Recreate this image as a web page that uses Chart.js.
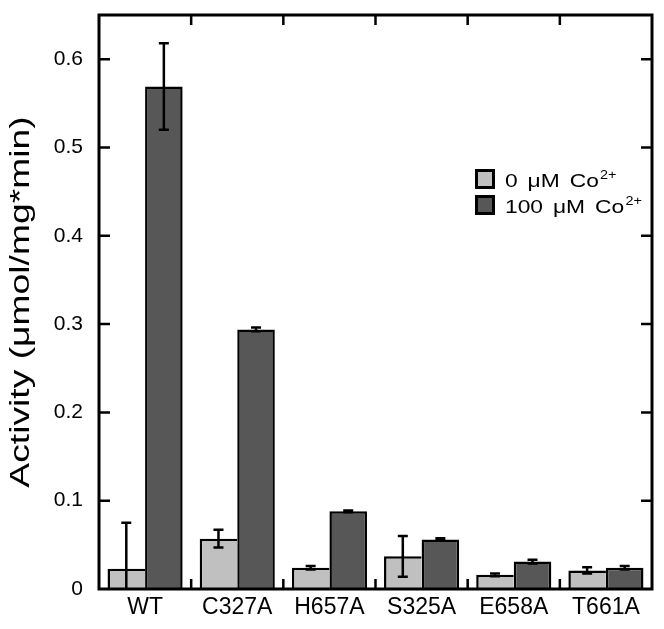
<!DOCTYPE html>
<html>
<head>
<meta charset="utf-8">
<script src="https://cdn.jsdelivr.net/npm/chart.js@4.4.0/dist/chart.umd.min.js"></script>
<style>
  html, body { margin: 0; padding: 0; background: #ffffff; }
  #wrap { width: 664px; height: 629px; position: relative; }
</style>
</head>
<body>
<div id="wrap"><canvas id="c"></canvas></div>
<script>
// ---- data ----
const categories = ['WT', 'C327A', 'H657A', 'S325A', 'E658A', 'T661A'];
const seriesNames = ['0 μM Co', '100 μM Co'];
const ionCharge = '2+';
const activity0 = [0.023, 0.057, 0.024, 0.037, 0.016, 0.021];
const error0 = [0.052, 0.010, 0.002, 0.023, 0.0015, 0.0035];
const activity100 = [0.569, 0.294, 0.088, 0.056, 0.031, 0.024];
const error100 = [0.049, 0.002, 0.001, 0.0015, 0.002, 0.002];
const yTickValues = [0, 0.1, 0.2, 0.3, 0.4, 0.5, 0.6];
const yAxisTitle = 'Activity (μmol/mg*min)';

const FONT = "'Liberation Sans', Arial, Helvetica, sans-serif";

const errorBarPlugin = {
  id: 'errorBars',
  afterDatasetsDraw(chart) {
    const ctx = chart.ctx;
    const ys = chart.scales.y;
    const area = chart.chartArea;
    ctx.save();
    ctx.beginPath();
    ctx.rect(area.left, area.top, area.right - area.left, area.bottom - area.top);
    ctx.clip();
    ctx.strokeStyle = '#000';
    ctx.lineWidth = 2.5;
    chart.data.datasets.forEach((ds, di) => {
      const meta = chart.getDatasetMeta(di);
      meta.data.forEach((bar, i) => {
        const v = ds.data[i];
        const e = ds.errors[i];
        const yHi = ys.getPixelForValue(v + e);
        const yLo = ys.getPixelForValue(v - e);
        const x = bar.x;
        const cw = 5;
        ctx.beginPath();
        ctx.moveTo(x, yHi); ctx.lineTo(x, yLo);
        ctx.moveTo(x - cw, yHi); ctx.lineTo(x + cw, yHi);
        ctx.moveTo(x - cw, yLo); ctx.lineTo(x + cw, yLo);
        ctx.stroke();
      });
    });
    ctx.restore();
  }
};

const framePlugin = {
  id: 'frame',
  afterDraw(chart) {
    const ctx = chart.ctx;
    const a = chart.chartArea;
    const xs = chart.scales.x;
    const ys = chart.scales.y;
    ctx.save();
    ctx.strokeStyle = '#000';
    ctx.lineWidth = 3;
    ctx.strokeRect(a.left, a.top, a.right - a.left, a.bottom - a.top);
    ctx.lineWidth = 2.5;
    ctx.beginPath();
    yTickValues.forEach(v => {
      if (v === 0) return;
      const y = ys.getPixelForValue(v);
      ctx.moveTo(a.left, y); ctx.lineTo(a.left + 11, y);
      ctx.moveTo(a.right, y); ctx.lineTo(a.right - 11, y);
    });
    for (let i = 0; i < categories.length - 1; i++) {
      const x = (xs.getPixelForValue(i) + xs.getPixelForValue(i + 1)) / 2;
      ctx.moveTo(x, a.bottom); ctx.lineTo(x, a.bottom - 10);
      ctx.moveTo(x, a.top); ctx.lineTo(x, a.top + 10);
    }
    ctx.stroke();

    // y-axis title, stretched along its reading direction like the reference
    ctx.save();
    ctx.translate(22, (a.top + a.bottom) / 2);
    ctx.rotate(-Math.PI / 2);
    ctx.scale(1.38, 1);
    ctx.fillStyle = '#000';
    ctx.font = '27px ' + FONT;
    ctx.textAlign = 'center';
    ctx.textBaseline = 'middle';
    ctx.fillText(yAxisTitle, 0, 0);
    ctx.restore();
    ctx.restore();
  }
};

const legendPlugin = {
  id: 'customLegend',
  afterDraw(chart) {
    const ctx = chart.ctx;
    const a = chart.chartArea;
    const x0 = a.right - 177;
    const y0 = 169;
    const rowH = 26;
    const box = 20;
    ctx.save();
    chart.data.datasets.forEach((ds, i) => {
      const y = y0 + i * rowH;
      ctx.fillStyle = '#000';
      ctx.fillRect(x0, y, box, box);
      ctx.fillStyle = ds.backgroundColor;
      ctx.fillRect(x0 + 3, y + 3, box - 6, box - 6);
      ctx.fillStyle = '#000';
      const tx = x0 + 30;
      const base = y + 18;
      ctx.save();
      ctx.translate(tx, base);
      ctx.scale(1.2, 1);
      ctx.font = '19px ' + FONT;
      ctx.textBaseline = 'alphabetic';
      ctx.textAlign = 'left';
      if ('wordSpacing' in ctx) ctx.wordSpacing = '3px';
      ctx.fillText(seriesNames[i], 0, 0);
      const w = ctx.measureText(seriesNames[i]).width;
      if ('wordSpacing' in ctx) ctx.wordSpacing = '0px';
      ctx.font = '12px ' + FONT;
      ctx.fillText(ionCharge, w + 1, -8);
      ctx.restore();
    });
    ctx.restore();
  }
};

new Chart(document.getElementById('c'), {
  type: 'bar',
  data: {
    labels: categories,
    datasets: [
      {
        label: seriesNames[0] + '²⁺',
        data: activity0,
        errors: error0,
        backgroundColor: '#c0c0c0',
        borderColor: '#000000',
        borderWidth: { top: 2.5, left: 2.5, right: 0, bottom: 0 },
        categoryPercentage: 0.815,
        barPercentage: 1.0
      },
      {
        label: seriesNames[1] + '²⁺',
        data: activity100,
        errors: error100,
        backgroundColor: '#575757',
        borderColor: '#000000',
        borderWidth: { top: 2.5, left: 2.5, right: 2.5, bottom: 0 },
        categoryPercentage: 0.815,
        barPercentage: 1.0
      }
    ]
  },
  options: {
    responsive: true,
    maintainAspectRatio: false,
    animation: false,
    devicePixelRatio: 1,
    layout: { padding: { left: 0, top: 15, right: 12, bottom: 0 } },
    plugins: {
      legend: { display: false },
      tooltip: { enabled: false }
    },
    scales: {
      x: {
        grid: { display: false, drawTicks: false },
        border: { display: false },
        ticks: {
          color: '#000',
          font: { family: FONT, size: 23 },
          padding: 5,
          maxRotation: 0,
          autoSkip: false
        },
        afterFit(scale) { scale.height = 40; scale.paddingLeft = 0; scale.paddingRight = 0; }
      },
      y: {
        min: 0,
        max: 0.65,
        grid: { display: false, drawTicks: false },
        border: { display: false },
        afterBuildTicks(scale) {
          scale.ticks = yTickValues.map(v => ({ value: v }));
        },
        ticks: {
          color: '#000',
          font: { family: FONT, size: 21 },
          padding: 16,
          callback: (v) => v === 0 ? '0' : Number(v).toFixed(1)
        },
        title: { display: false, text: yAxisTitle },
        afterFit(scale) { scale.width = 99; scale.paddingTop = 0; scale.paddingBottom = 0; }
      }
    }
  },
  plugins: [errorBarPlugin, framePlugin, legendPlugin]
});
</script>
</body>
</html>
